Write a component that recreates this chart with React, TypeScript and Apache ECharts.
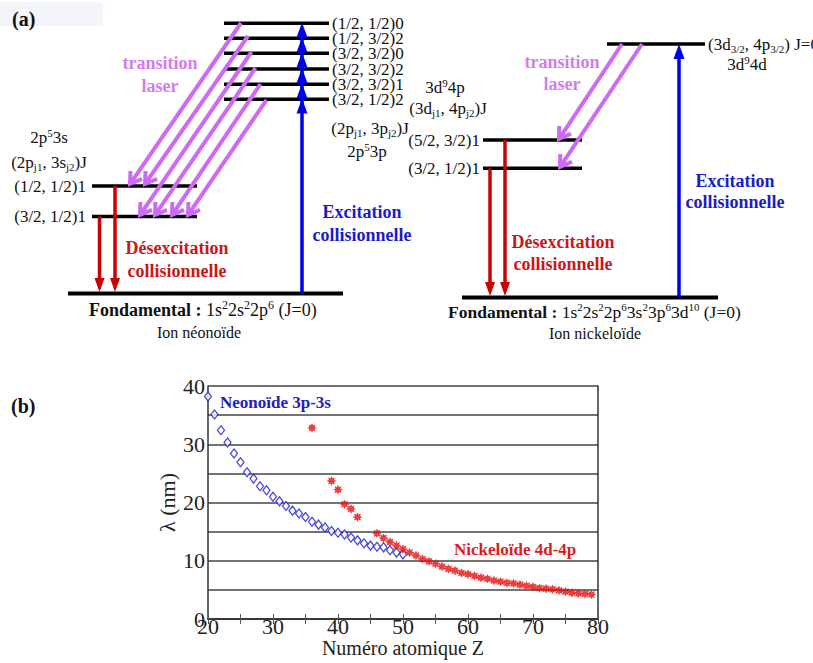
import React, { useEffect, useRef } from "react";
import * as echarts from "echarts";

// ---------- data: panel (b) ----------
const neonZ = [20, 21, 22, 23, 24, 25, 26, 27, 28, 29, 30, 31, 32, 33, 34, 35, 36, 37, 38, 39, 40, 41, 42, 43, 44, 45, 46, 47, 48, 49, 50];
const neonLambda = [38.2, 35.1, 32.4, 30.3, 28.4, 26.9, 25.2, 24.1, 22.8, 22.1, 21.0, 20.2, 19.4, 18.6, 18.1, 17.5, 16.7, 16.2, 15.7, 15.1, 14.8, 14.5, 14.0, 13.5, 13.0, 12.6, 12.4, 12.3, 11.8, 11.4, 11.1];
const nickelZ = [36, 39, 40, 41, 42, 43, 46, 47, 48, 49, 50, 51, 52, 53, 54, 55, 56, 57, 58, 59, 60, 61, 62, 63, 64, 65, 66, 67, 68, 69, 70, 71, 72, 73, 74, 75, 76, 77, 78, 79];
const nickelLambda = [32.8, 23.7, 22.2, 19.7, 18.9, 17.5, 14.7, 13.9, 13.2, 12.6, 12.0, 11.4, 10.9, 10.3, 9.9, 9.5, 9.0, 8.6, 8.3, 7.9, 7.7, 7.4, 7.1, 6.9, 6.6, 6.4, 6.2, 6.1, 5.9, 5.7, 5.5, 5.3, 5.2, 5.1, 4.9, 4.7, 4.5, 4.4, 4.3, 4.2];
const xTickLabels = [20, 30, 40, 50, 60, 70, 80];
const yTickLabels = [0, 10, 20, 30, 40];
const seriesNames = ["Neonoïde 3p-3s", "Nickeloïde 4d-4p"];

// ---------- data: panel (a) ----------
const neonUpperLevels = ["(1/2, 1/2)0", "(1/2, 3/2)2", "(3/2, 3/2)0", "(3/2, 3/2)2", "(3/2, 3/2)1", "(3/2, 1/2)2"];
const neonLowerLevels = ["(1/2, 1/2)1", "(3/2, 1/2)1"];
const nickelUpperLevels = ["(3d{sub|3/2}, 4p{sub|3/2}) J=0"];
const nickelLowerLevels = ["(5/2, 3/2)1", "(3/2, 1/2)1"];

const FF = "'Liberation Serif', 'Times New Roman', Times, serif";
const VIOLET = "#cd6af5";
const VIOLET_TXT = "#d27cf0";
const RED = "#cc0000";
const RED_TXT = "#c81818";
const BLUE = "#0000ee";
const BLUE_TXT = "#1c1cc4";

function rich(size: number, ratio: number) {
  const s = Math.round(size * ratio);
  return {
    sub: { fontFamily: FF, fontSize: s, verticalAlign: "bottom" },
    sup: { fontFamily: FF, fontSize: s, verticalAlign: "top" },
    b: { fontFamily: FF, fontSize: size, fontWeight: "bold" },
  };
}

function txt(x: number, y: number, text: string, o: any = {}) {
  const size = o.size || 17;
  const hasRich = text.indexOf("{") >= 0;
  const style: any = {
    text,
    fill: o.fill || "#111",
    fontFamily: FF,
    fontSize: size,
    fontWeight: o.weight || "normal",
    align: o.align || "left",
    verticalAlign: "middle",
  };
  if (hasRich) {
    style.lineHeight = Math.round(size * 1.2);
    style.rich = rich(size, o.ratio || 0.66);
  }
  return { type: "text", x, y, silent: true, z: 10, style };
}

function hline(x1: number, x2: number, y: number, w: number) {
  return { type: "line", silent: true, z: 2, shape: { x1, y1: y, x2, y2: y }, style: { stroke: "#000", lineWidth: w } };
}

function arrow(x1: number, y1: number, x2: number, y2: number, color: string, lw: number, hl: number, hw: number, open = false) {
  const dx = x2 - x1, dy = y2 - y1;
  const len = Math.hypot(dx, dy);
  const ux = dx / len, uy = dy / len;
  const px = -uy, py = ux;
  const bx = x2 - ux * hl, by = y2 - uy * hl;
  const els: any[] = [];
  const endX = open ? x2 - ux * 2 : bx + ux * 2;
  const endY = open ? y2 - uy * 2 : by + uy * 2;
  els.push({ type: "line", silent: true, z: 5, shape: { x1, y1, x2: endX, y2: endY }, style: { stroke: color, lineWidth: lw } });
  if (open) {
    els.push({
      type: "polyline", silent: true, z: 5,
      shape: { points: [[bx + px * hw / 2, by + py * hw / 2], [x2, y2], [bx - px * hw / 2, by - py * hw / 2]] },
      style: { stroke: color, lineWidth: lw, fill: null, lineJoin: "miter" },
    });
  } else {
    els.push({
      type: "polygon", silent: true, z: 5,
      shape: { points: [[x2, y2], [bx + px * hw / 2, by + py * hw / 2], [bx - px * hw / 2, by - py * hw / 2]] },
      style: { fill: color },
    });
  }
  return els;
}

function head(x: number, tipY: number, color: string, hl: number, hw: number) {
  return {
    type: "polygon", silent: true, z: 6,
    shape: { points: [[x, tipY], [x + hw / 2, tipY + hl], [x - hw / 2, tipY + hl]] },
    style: { fill: color },
  };
}

function buildDiagram() {
  const g: any[] = [];
  g.push({ type: "rect", silent: true, z: 0, shape: { x: 0, y: 2, width: 103, height: 24 }, style: { fill: "#f3f5fa" } });
  g.push(txt(12, 19, "(a)", { size: 20, weight: "bold" }));
  g.push(txt(11, 406, "(b)", { size: 20, weight: "bold" }));

  // ===== neonoid =====
  const nUpY = [23.3, 38.3, 53.3, 69, 84.3, 99.3];
  neonUpperLevels.forEach((lab, i) => {
    g.push(hline(224, 329, nUpY[i], 3.5));
    g.push(txt(332, nUpY[i], lab, { size: 17 }));
  });
  const nLowY = [186, 216.5];
  neonLowerLevels.forEach((lab, i) => {
    g.push(hline(92, 197, nLowY[i], 3.5));
    g.push(txt(86, nLowY[i], lab, { size: 17, align: "right" }));
  });
  g.push(hline(68, 343, 293.5, 4));

  const nViolet = [
    [241, 23, 130, 184], [248, 36, 145, 184], [251.5, 52, 140, 215],
    [255.5, 68, 155, 215], [260.5, 84, 172, 215], [266.5, 100, 188, 215],
  ];
  nViolet.forEach((a) => g.push(...arrow(a[0], a[1], a[2], a[3], VIOLET, 4, 11, 14, true)));
  g.push(...arrow(99.5, 216.5, 99.5, 292, RED, 3.5, 14, 10));
  g.push(...arrow(115, 186, 115, 292, RED, 3.5, 14, 10));
  g.push({ type: "line", silent: true, z: 5, shape: { x1: 302, y1: 294, x2: 302, y2: 30 }, style: { stroke: BLUE, lineWidth: 3.5 } });
  nUpY.forEach((y) => g.push(head(302, y - 0.8, BLUE, 15, 11)));

  g.push(txt(160, 63, "transition", { size: 18, weight: "bold", fill: VIOLET_TXT, align: "center" }));
  g.push(txt(160, 86, "laser", { size: 18, weight: "bold", fill: VIOLET_TXT, align: "center" }));
  g.push(txt(177, 248, "Désexcitation", { size: 18, weight: "bold", fill: RED_TXT, align: "center" }));
  g.push(txt(177, 271, "collisionnelle", { size: 18, weight: "bold", fill: RED_TXT, align: "center" }));
  g.push(txt(362, 212, "Excitation", { size: 18, weight: "bold", fill: BLUE_TXT, align: "center" }));
  g.push(txt(362, 235, "collisionnelle", { size: 18, weight: "bold", fill: BLUE_TXT, align: "center" }));
  g.push(txt(49, 137, "2p{sup|5}3s", { size: 17, align: "center" }));
  g.push(txt(49, 162, "(2p{sub|j1}, 3s{sub|j2})J", { size: 17, align: "center" }));
  g.push(txt(370, 128, "(2p{sub|j1}, 3p{sub|j2})J", { size: 17, align: "center" }));
  g.push(txt(367, 151, "2p{sup|5}3p", { size: 17, align: "center" }));
  g.push(txt(89, 310, "{b|Fondamental :} 1s{sup|2}2s{sup|2}2p{sup|6} (J=0)", { size: 18 }));
  g.push(txt(199, 332.5, "Ion néonoïde", { size: 16, align: "center" }));

  // ===== nickeloid =====
  g.push(hline(607, 705, 44, 3.5));
  g.push(txt(708, 44, nickelUpperLevels[0], { size: 17 }));
  const kLowY = [140, 168.3];
  nickelLowerLevels.forEach((lab, i) => {
    g.push(hline(483, 582, kLowY[i], 3.5));
    g.push(txt(480, kLowY[i], lab, { size: 17, align: "right" }));
  });
  g.push(hline(462, 718, 297.5, 4));
  g.push(...arrow(622, 44, 559, 139, VIOLET, 4, 11, 14, true));
  g.push(...arrow(642, 44, 560, 167, VIOLET, 4, 11, 14, true));
  g.push(...arrow(490, 168.3, 490, 296, RED, 3.5, 14, 10));
  g.push(...arrow(505, 140, 505, 296, RED, 3.5, 14, 10));
  g.push(...arrow(679, 297, 679, 44, BLUE, 3.5, 15, 11));

  g.push(txt(562, 62, "transition", { size: 18, weight: "bold", fill: VIOLET_TXT, align: "center" }));
  g.push(txt(562, 84, "laser", { size: 18, weight: "bold", fill: VIOLET_TXT, align: "center" }));
  g.push(txt(563, 242, "Désexcitation", { size: 18, weight: "bold", fill: RED_TXT, align: "center" }));
  g.push(txt(563, 264, "collisionnelle", { size: 18, weight: "bold", fill: RED_TXT, align: "center" }));
  g.push(txt(735, 181, "Excitation", { size: 18, weight: "bold", fill: BLUE_TXT, align: "center" }));
  g.push(txt(735, 202, "collisionnelle", { size: 18, weight: "bold", fill: BLUE_TXT, align: "center" }));
  g.push(txt(445, 87, "3d{sup|9}4p", { size: 17, align: "center" }));
  g.push(txt(448, 108, "(3d{sub|j1}, 4p{sub|j2})J", { size: 17, align: "center" }));
  g.push(txt(747, 64, "3d{sup|9}4d", { size: 17, align: "center" }));
  g.push(txt(448, 311.5, "{b|Fondamental :} 1s{sup|2}2s{sup|2}2p{sup|6}3s{sup|2}3p{sup|6}3d{sup|10} (J=0)", { size: 17.5, ratio: 0.6 }));
  g.push(txt(595, 333, "Ion nickeloïde", { size: 16, align: "center" }));

  // panel (b) series labels
  g.push(txt(220, 402, seriesNames[0], { size: 17, weight: "bold", fill: "#2020c0" }));
  g.push(txt(454, 549, seriesNames[1], { size: 17, weight: "bold", fill: "#dc1c1c" }));
  return g;
}

function starPath() {
  const pts: string[] = [];
  for (let k = 0; k < 16; k++) {
    const r = k % 2 === 0 ? 5 : 2.7;
    const a = -Math.PI / 2 + (k * Math.PI) / 8;
    pts.push((5 + r * Math.cos(a)).toFixed(2) + "," + (5 + r * Math.sin(a)).toFixed(2));
  }
  return "path://M" + pts.join("L") + "Z";
}

export default function App() {
  const ref = useRef<HTMLDivElement>(null);
  useEffect(() => {
    if (!ref.current) return;
    const chart = echarts.init(ref.current, null, { renderer: "svg" });
    const axisCol = "#333";
    const lblFmt = (list: number[]) => (v: number) => (list.indexOf(v) >= 0 ? String(v) : "");
    chart.setOption({
      animation: false,
      backgroundColor: "#ffffff",
      grid: { left: 208, right: 215, top: 386, bottom: 44, containLabel: false, outerBoundsMode: "none" },
      xAxis: [
        {
          type: "value", min: 20, max: 80, interval: 5, position: "bottom",
          axisLine: { show: true, lineStyle: { color: axisCol, width: 1.5 } },
          axisTick: { show: true, inside: true, length: 5, lineStyle: { color: "#555", width: 1 } },
          axisLabel: { formatter: lblFmt(xTickLabels), fontFamily: FF, fontSize: 22, color: "#222", margin: -4 },
          splitLine: { show: false },
          name: "Numéro atomique Z", nameLocation: "middle", nameGap: 19,
          nameTextStyle: { fontFamily: FF, fontSize: 20, color: "#222" },
        },
        {
          type: "value", min: 20, max: 80, interval: 5, position: "top",
          axisLine: { show: true, lineStyle: { color: axisCol, width: 1.5 } },
          axisTick: { show: true, inside: true, length: 5, lineStyle: { color: "#555", width: 1 } },
          axisLabel: { show: false }, splitLine: { show: false },
        },
      ],
      yAxis: [
        {
          type: "value", min: 0, max: 40, interval: 5, position: "left",
          axisLine: { show: true, lineStyle: { color: axisCol, width: 1.5 } },
          axisTick: { show: false },
          axisLabel: { formatter: lblFmt(yTickLabels), fontFamily: FF, fontSize: 22, color: "#222", margin: 3 },
          splitLine: { show: true, lineStyle: { color: "#444", width: 1.5 } },
          name: "λ (nm)", nameLocation: "middle", nameGap: 30, nameRotate: 90,
          nameTextStyle: { fontFamily: FF, fontSize: 22, color: "#222" },
        },
        {
          type: "value", min: 0, max: 40, interval: 5, position: "right",
          axisLine: { show: true, lineStyle: { color: axisCol, width: 1.5 } },
          axisTick: { show: false }, axisLabel: { show: false }, splitLine: { show: false },
        },
      ],
      series: [
        {
          name: seriesNames[0], type: "scatter", xAxisIndex: 0, yAxisIndex: 0,
          data: neonZ.map((z, i) => [z, neonLambda[i]]),
          symbol: "diamond", symbolSize: [7, 9],
          itemStyle: { color: "#ffffff", borderColor: "#1c1cd0", borderWidth: 1.3 },
          z: 3,
        },
        {
          name: seriesNames[1], type: "scatter", xAxisIndex: 0, yAxisIndex: 0,
          data: nickelZ.map((z, i) => [z, nickelLambda[i]]),
          symbol: starPath(), symbolSize: 8.5,
          itemStyle: { color: "#e61010", borderColor: "#e61010", borderWidth: 0.6 },
          z: 4,
        },
      ],
      graphic: { elements: buildDiagram() },
    });
    return () => chart.dispose();
  }, []);
  return <div ref={ref} style={{ position: "absolute", left: 0, top: 0, width: 813, height: 663, background: "#fff" }} />;
}
